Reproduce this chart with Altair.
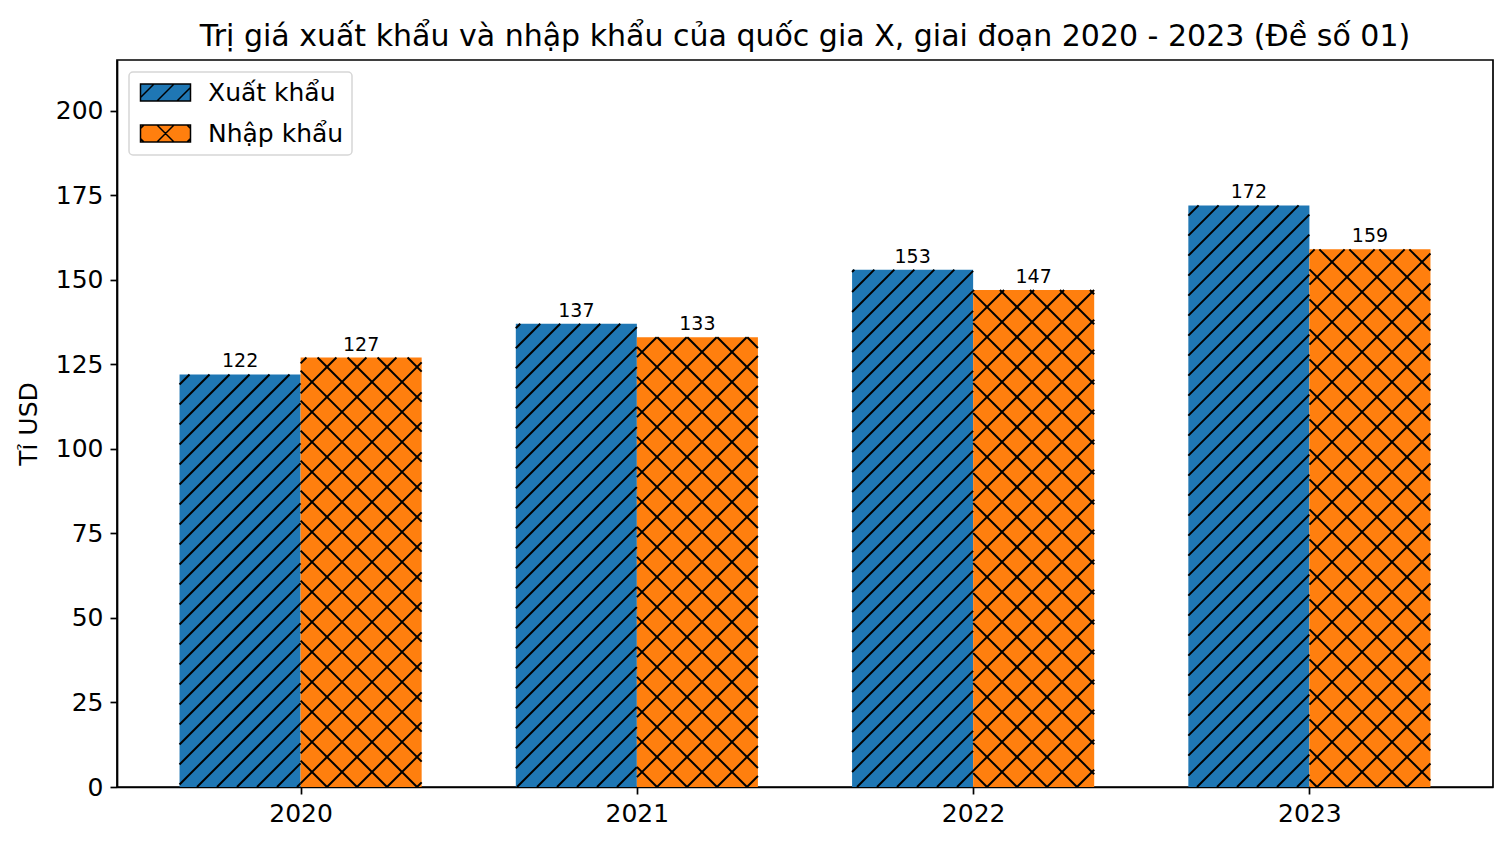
import math
import altair as alt
import pandas as pd

# values
years = ["2020", "2021", "2022", "2023"]
series = ["Xuất khẩu", "Nhập khẩu"]
xuat_khau = [122, 137, 153, 172]
nhap_khau = [127, 133, 147, 159]
colors = ["#1f77b4", "#ff7f0e"]

# plot geometry (pixels) and axis ranges
W, H = 1376, 727
BAR_W = 0.36
XMIN, XMAX = -BAR_W - 0.05 * (3 + 2 * BAR_W), 3 + BAR_W + 0.05 * (3 + 2 * BAR_W)
YMAX = 215
FONT = "DejaVu Sans"

kx = W / (XMAX - XMIN)
ky = H / YMAX

bars = []
for i, yr in enumerate(years):
    bars.append({"year": yr, "series": series[0], "value": xuat_khau[i],
                 "x0": i - BAR_W, "x1": i, "xc": i - BAR_W / 2})
    bars.append({"year": yr, "series": series[1], "value": nhap_khau[i],
                 "x0": i, "x1": i + BAR_W, "xc": i + BAR_W / 2})
df = pd.DataFrame(bars)


def hatch(x0, x1, top, spacing, direction):
    # hatch lines inside one bar, worked out in pixel space so they run at 45 degrees
    X0, X1, Y1 = (x0 - XMIN) * kx, (x1 - XMIN) * kx, top * ky
    out = []
    if direction == "/":
        ks = range(math.ceil(-X1 / spacing), math.floor((Y1 - X0) / spacing) + 1)
    else:
        ks = range(math.ceil(X0 / spacing), math.floor((X1 + Y1) / spacing) + 1)
    for k in ks:
        c = k * spacing
        if direction == "/":
            lo, hi = max(X0, -c), min(X1, Y1 - c)
            ya, yb = lo + c, hi + c
        else:
            lo, hi = max(X0, c - Y1), min(X1, c)
            ya, yb = c - lo, c - hi
        if hi - lo > 0.5:
            out.append({"hx": lo / kx + XMIN, "hx2": hi / kx + XMIN,
                        "hy": ya / ky, "hy2": yb / ky})
    return out


lines = []
for r in bars:
    if r["series"] == series[0]:
        lines += hatch(r["x0"], r["x1"], r["value"], 20, "/")
    else:
        lines += hatch(r["x0"], r["x1"], r["value"], 30, "/")
        lines += hatch(r["x0"], r["x1"], r["value"], 30, "\\")
df_h = pd.DataFrame(lines)

# legend symbol: symbolSize 289 -> 1 unit = 8.5 px; patch is 50 x 17 px
SYM_U = 8.5
HW = 25 / SYM_U


def legend_path(spacing, dirs):
    s = spacing / SYM_U
    p = f"M{-HW:.3f},-1H{HW:.3f}V1H{-HW:.3f}Z"
    for d in dirs:
        for k in range(-6, 7):
            c = k * s
            if d == "/":   # x + y = c
                ya, yb = max(-1, c - HW), min(1, c + HW)
                if yb - ya > 0.05:
                    p += f"M{c - ya:.3f},{ya:.3f}L{c - yb:.3f},{yb:.3f}"
            else:          # x - y = c
                ya, yb = max(-1, -HW - c), min(1, HW - c)
                if yb - ya > 0.05:
                    p += f"M{c + ya:.3f},{ya:.3f}L{c + yb:.3f},{yb:.3f}"
    return p


shapes = [legend_path(20, ["/"]), legend_path(30, ["/", "\\"])]

xscale = alt.Scale(domain=[XMIN, XMAX], nice=False, zero=False)
yscale = alt.Scale(domain=[0, YMAX], nice=False)
label_expr = "[" + ",".join(f"'{y}'" for y in years) + "][datum.value]"

base = alt.Chart(df)

rects = base.mark_rect().encode(
    x=alt.X("x0:Q", scale=xscale,
            axis=alt.Axis(values=[0, 1, 2, 3], labelExpr=label_expr, title=None)),
    x2="x1:Q",
    y=alt.Y("value:Q", scale=yscale,
            axis=alt.Axis(values=list(range(0, 201, 25)), title="Tỉ USD")),
    y2=alt.datum(0),
    color=alt.Color("series:N", scale=alt.Scale(domain=series, range=colors),
                    legend=alt.Legend(title=None)),
)

hatches = alt.Chart(df_h).mark_rule(color="black", strokeWidth=2).encode(
    x="hx:Q", x2="hx2:Q", y="hy:Q", y2="hy2:Q"
)

labels = base.mark_text(fontSize=19, baseline="alphabetic", dy=-7, color="black").encode(
    x="xc:Q", y="value:Q", text="value:Q"
)

legend_pts = base.transform_filter("false").mark_point(filled=True, opacity=1).encode(
    color=alt.Color("series:N", scale=alt.Scale(domain=series, range=colors),
                    legend=alt.Legend(title=None)),
    shape=alt.Shape("series:N", scale=alt.Scale(domain=series, range=shapes),
                    legend=alt.Legend(title=None)),
)

chart = alt.layer(rects, hatches, labels, legend_pts).properties(
    width=W, height=H,
    autosize=alt.AutoSizeParams(type="none"),
    padding={"left": 109, "top": 52, "right": 10, "bottom": 51},
    title=alt.Title("Trị giá xuất khẩu và nhập khẩu của quốc gia X, giai đoạn 2020 - 2023 (Đề số 01)",
                    fontSize=30, fontWeight="normal", anchor="middle", offset=8, color="black"),
)
chart = chart.configure(font=FONT)
chart = chart.configure_view(stroke="black", strokeWidth=1.7)
chart = chart.configure_axis(
    grid=False, domainColor="black", domainWidth=1.7, tickColor="black", tickWidth=1.7,
    tickSize=7, labelPadding=7, labelFontSize=25, labelColor="black", labelFont=FONT,
    titleFontSize=25, titleFontWeight="normal", titleColor="black", titleFont=FONT,
)
chart = chart.configure_axisY(titlePadding=14)
chart = chart.configure_legend(
    orient="top-left", offset=12, padding=8, strokeColor="#d6d6d6", strokeWidth=1.5,
    cornerRadius=4, fillColor="white", labelFontSize=25, labelColor="black", labelFont=FONT,
    symbolSize=SYM_U * SYM_U * 4, symbolStrokeColor="black", symbolStrokeWidth=1.5,
    symbolOffset=16, labelOffset=30, rowPadding=15,
)
chart.save("out.html", embed_options={"renderer": "svg", "actions": False})
